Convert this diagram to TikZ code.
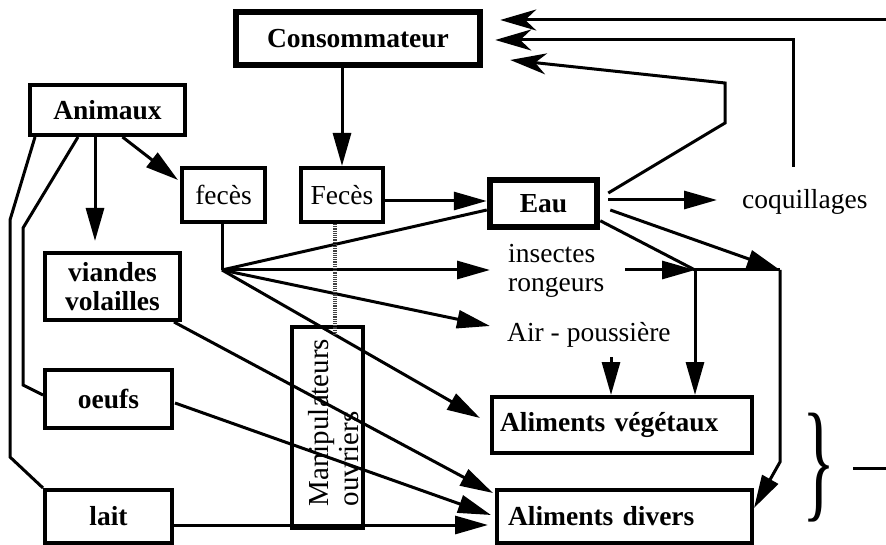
\documentclass[tikz,border=0pt]{standalone}
\usepackage{fontspec}
\setmainfont{Liberation Serif}
\usepackage{graphicx}
\usetikzlibrary{arrows.meta,calc}
\begin{document}
\begin{tikzpicture}[x=1pt,y=-1pt,
  txt/.style={font=\fontsize{27.5pt}{29pt}\selectfont, inner sep=0pt},
  box/.style={draw, line width=4pt, rectangle, inner sep=0pt, align=center,
    font=\fontsize{27.5pt}{29pt}\selectfont\bfseries},
  thickbox/.style={box, line width=6.5pt},
  plainbox/.style={box, font=\fontsize{27.5pt}{29pt}\selectfont},
  conn/.style={line width=3pt},
  arr/.style={conn, -{Triangle[length=33pt,width=18pt]}},
  back/.style={conn, -{Stealth[length=36pt,width=21pt,inset=11pt]}},
  dotline/.style={line width=3.2pt, dash pattern=on 1.2pt off 1pt, black!75},
]
\useasboundingbox (0,0) rectangle (886,545);

% boxes
\node[thickbox, minimum width=244pt, minimum height=53pt] (cons) at (358,38.5) {Consommateur};
\node[box, minimum width=155pt, minimum height=50pt] (anim) at (107.5,110) {Animaux};
\node[plainbox, minimum width=83pt, minimum height=54pt] (fec1) at (223.5,195) {fecès};
\node[plainbox, minimum width=82pt, minimum height=54pt] (fec2) at (342,195) {Fecès};
\node[thickbox, minimum width=107pt, minimum height=47pt] (eau) at (543.5,203.5) {Eau};
\node[box, minimum width=135pt, minimum height=67pt] (viandes) at (112.5,286.5) {viandes\\volailles};
\node[box, minimum width=127pt, minimum height=58pt] (oeufs) at (108.5,399) {oeufs};
\node[box, minimum width=127pt, minimum height=53pt] (lait) at (108.5,516.5) {lait};
\node[box, minimum width=71pt, minimum height=201pt] (manip) at (327.5,427.5) {};
\node[txt, rotate=90, align=left, font=\fontsize{29pt}{30pt}\selectfont] (maniptxt) at (334,422.5) {Manipulateurs\\ouvriers};
\node[box, minimum width=260pt, minimum height=56pt, text width=244pt, align=left] (veg) at (622,425) {Aliments végétaux};
\node[box, minimum width=255pt, minimum height=53pt, text width=233pt, align=left] (div) at (624.5,516.5) {Aliments divers};

% free labels
\node[txt, anchor=west, align=left] (ins) at (508,271) {insectes\\rongeurs};
\node[txt, anchor=west] (air) at (507,335) {Air - poussière};
\node[txt, anchor=west] (coq) at (742,202) {coquillages};
\node[inner sep=0pt] (brace) at (818.5,467.5) {\resizebox*{33pt}{109pt}{\}}};

% junctions and open ends
\coordinate (hub) at (222,270);
\coordinate (j1) at (695,270);
\coordinate (j2) at (780,270);
\coordinate (rin) at (886,20);
\coordinate (rout) at (886,468);
\coordinate (airdrop) at ($(air.west)+(104,22)$);

% consumer and animals
\draw[arr] (fec2.north |- cons.south) -- (fec2.north);
\draw[arr] ($(anim.south)+(15,0)$) -- ($(fec1.west)+(-2,-15)$);
\draw[arr] ($(anim.south)+(-12.5,0)$) -- ($(viandes.north)+(-17.5,-10)$);
\draw[conn] ($(anim.south west)+(7,0)$) -- (10,220) -- (10,457) -- (lait.north west);
\draw[conn] ($(anim.south west)+(50,0)$) -- (23,228) -- (23,385) -- ($(oeufs.west)+(0,-4)$);

% animal products to Aliments divers
\draw[arr] ($(viandes.south east)+(-8,0)$) -- ($(div.north west)+(-2,5)$);
\draw[arr] ($(oeufs.east)+(1,4)$) -- ($(div.west)+(-4,-1.5)$);
\draw[arr] ($(lait.east)+(0,8.5)$) -- ($(div.west)+(-7,8.5)$);

% fecès spreading
\draw[conn] (fec1.south -| hub) -- (hub);
\draw[conn] (hub) -- ($(eau.west)+(0,6.5)$);
\draw[arr] (hub) -- ($(ins.west)+(-18,-1)$);
\draw[arr] (hub) -- ($(air.west)+(-17,-9)$);
\draw[arr] (hub) -- ($(veg.west)+(-10,-7)$);
\draw[arr] ($(fec2.east)+(0,6)$) -- ($(eau.west)+(0,-2.5)$);

% water and its returns to the consumer
\draw[arr] ($(eau.east)+(8,-3.5)$) -- ($(coq.west)+(-25,-2)$);
\draw[back] ($(eau.east)+(8,-10.5)$) -- (725,123) -- (725,83) -- ($(cons.east)+(27,21.5)$);
\draw[back] ($(coq.west)+(51,-35)$) |- ($(cons.east)+(12,1.5)$);
\draw[back] (rin) -- ($(cons.east)+(17,-18.5)$);

% water, insects and dust to the foods
\draw[conn] ($(eau.south east)+(0,-9.5)$) -- (j1);
\draw[arr] ($(eau.east)+(10,6.5)$) -- (j2);
\draw[arr] ($(ins.west)+(117,-1)$) -- (j1);
\draw[conn] (j1) -- (j2);
\draw[arr] (j1) -- (j1 |- veg.north);
\draw[arr] (j2) -- ($(j2)+(0,192)$) -- ($(div.east)+(0,-8.5)$);
\draw[arr] (airdrop) -- (airdrop |- veg.north);

% workers link
\draw[dotline] ($(fec2.south)+(-7,0)$) -- ($(manip.north)+(7.5,10)$);

% brace output
\draw[conn] ($(brace.east)+(18,0.5)$) -- (rout);
\end{tikzpicture}
\end{document}
